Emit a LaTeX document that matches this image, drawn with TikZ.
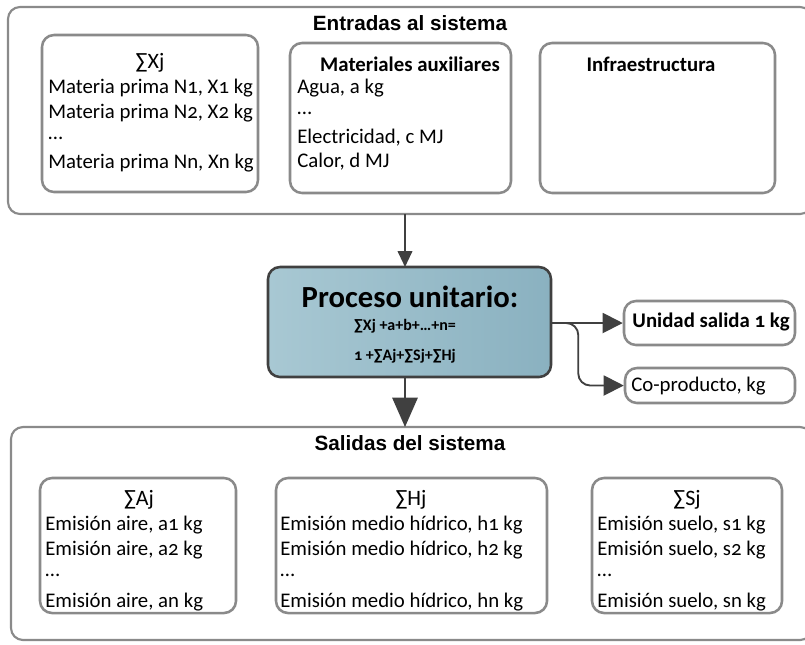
\documentclass[tikz,border=0pt]{standalone}
\usepackage{fontspec}
\setmainfont{Carlito}[Numbers=OldStyle]
\newfontfamily\headfont{Liberation Sans}
\usetikzlibrary{fit,arrows.meta}
\definecolor{frame}{HTML}{8A8A8A}
\definecolor{wire}{HTML}{404040}
\definecolor{procL}{HTML}{A8C8D3}
\definecolor{procR}{HTML}{8AB1C0}
\newcommand{\bodysize}{\fontsize{15.6}{18}\selectfont}
\tikzset{
  panel/.style={draw=frame, line width=1.6pt, rounded corners=9pt, inner sep=0pt},
  card/.style={draw=frame, line width=1.9pt, rounded corners=9pt, inner sep=0pt, fill=white},
  proc/.style={draw=wire, line width=1.9pt, rounded corners=9pt, inner sep=0pt,
    left color=procL, right color=procR},
  htitle/.style={font=\headfont\bfseries\fontsize{15.5}{18}\selectfont},
  ctitle/.style={font=\fontsize{16.5}{19}\selectfont},
  btitle/.style={font=\bfseries\bodysize},
  line/.style={anchor=west, inner sep=0pt, font=\bodysize},
  arr/.style={draw=wire, line width=1.4pt, -{Triangle[length=12pt,width=11pt]}},
  sidearr/.style={draw=wire, line width=1.4pt, -{Triangle[length=15pt,width=15pt]}},
  bigarr/.style={draw=wire, line width=1.4pt, -{Triangle[length=22pt,width=19pt]}},
}
\begin{document}
\begin{tikzpicture}[x=0.75pt,y=-0.75pt]
\useasboundingbox (0,0) rectangle (805,644);

% ---- inputs ----
\node[panel, fit={(8,7) (812,214)}] (inp) {};
\node[htitle] (inpT) at (410,23) {Entradas al sistema};

\node[card, fit={(42,35) (258,192)}] (bx) {};
\node[ctitle] (bxT) at (150,63) {∑Xj};
\node[line] (bx1) at (48,88) {Materia prima N1, X1 kg};
\node[line] (bx2) at (48,113) {Materia prima N2, X2 kg};
\node[line] (bx3) at (48,138) {…};
\node[line] (bx4) at (48,163) {Materia prima Nn, Xn kg};

\node[card, fit={(290,43) (511,193)}] (aux) {};
\node[btitle] (auxT) at (410,64) {Materiales auxiliares};
\node[line] (aux1) at (297,88) {Agua, a kg};
\node[line] (aux2) at (297,113) {…};
\node[line] (aux3) at (297,138) {Electricidad, c MJ};
\node[line] (aux4) at (297,162) {Calor, d MJ};

\node[card, fit={(540,43) (775,193)}] (inf) {};
\node[btitle] (infT) at (651,64) {Infraestructura};

% ---- unit process ----
\node[proc, fit={(268,267) (551,377)}] (pu) {};
\node[font=\bfseries\fontsize{23}{26}\selectfont] (puT) at (410,297) {Proceso unitario:};
\node[font=\bfseries\fontsize{12}{14}\selectfont] (puA) at (405,326) {∑Xj +a+b+…+n=};
\node[font=\bfseries\fontsize{12}{14}\selectfont] (puB) at (405,356) {1 +∑Aj+∑Sj+∑Hj};

\node[card, fit={(624,301) (795,345)}] (unit) {};
\node[btitle] (unitT) at (711,322) {Unidad salida 1 kg};
\node[card, fit={(625,368) (795,403)}] (co) {};
\node[line] (coT) at (631,386) {Co-producto, kg};

% ---- outputs ----
\node[panel, fit={(11,427) (812,640)}] (out) {};
\node[htitle] (outT) at (410,443) {Salidas del sistema};

\node[card, fit={(40,478) (236,613)}] (sa) {};
\node[ctitle] (saT) at (139,500) {∑Aj};
\node[line] (sa1) at (45,525) {Emisión aire, a1 kg};
\node[line] (sa2) at (45,550) {Emisión aire, a2 kg};
\node[line] (sa3) at (45,575) {…};
\node[line] (sa4) at (45,602) {Emisión aire, an kg};

\node[card, fit={(276,478) (547,613)}] (sh) {};
\node[ctitle] (shT) at (411,500) {∑Hj};
\node[line] (sh1) at (280,525) {Emisión medio hídrico, h1 kg};
\node[line] (sh2) at (280,550) {Emisión medio hídrico, h2 kg};
\node[line] (sh3) at (280,575) {…};
\node[line] (sh4) at (280,602) {Emisión medio hídrico, hn kg};

\node[card, fit={(592,478) (782,613)}] (ss) {};
\node[ctitle] (ssT) at (687,500) {∑Sj};
\node[line] (ss1) at (597,525) {Emisión suelo, s1 kg};
\node[line] (ss2) at (597,550) {Emisión suelo, s2 kg};
\node[line] (ss3) at (597,575) {…};
\node[line] (ss4) at (597,602) {Emisión suelo, sn kg};

% ---- connectors ----
\coordinate (inDrop) at (405,214);
\coordinate (puTop) at (405,267);
\coordinate (puBot) at (405,377);
\coordinate (outTop) at (405,427);
\draw[arr] (inDrop) -- (puTop);
\draw[bigarr] (puBot) -- (outTop);
\draw[sidearr] (pu.east |- unit.west) -- (unit.west);
\draw[sidearr, rounded corners=9pt] (pu.east |- unit.west) -- ++(26,0) |- (co.west);
\end{tikzpicture}
\end{document}
